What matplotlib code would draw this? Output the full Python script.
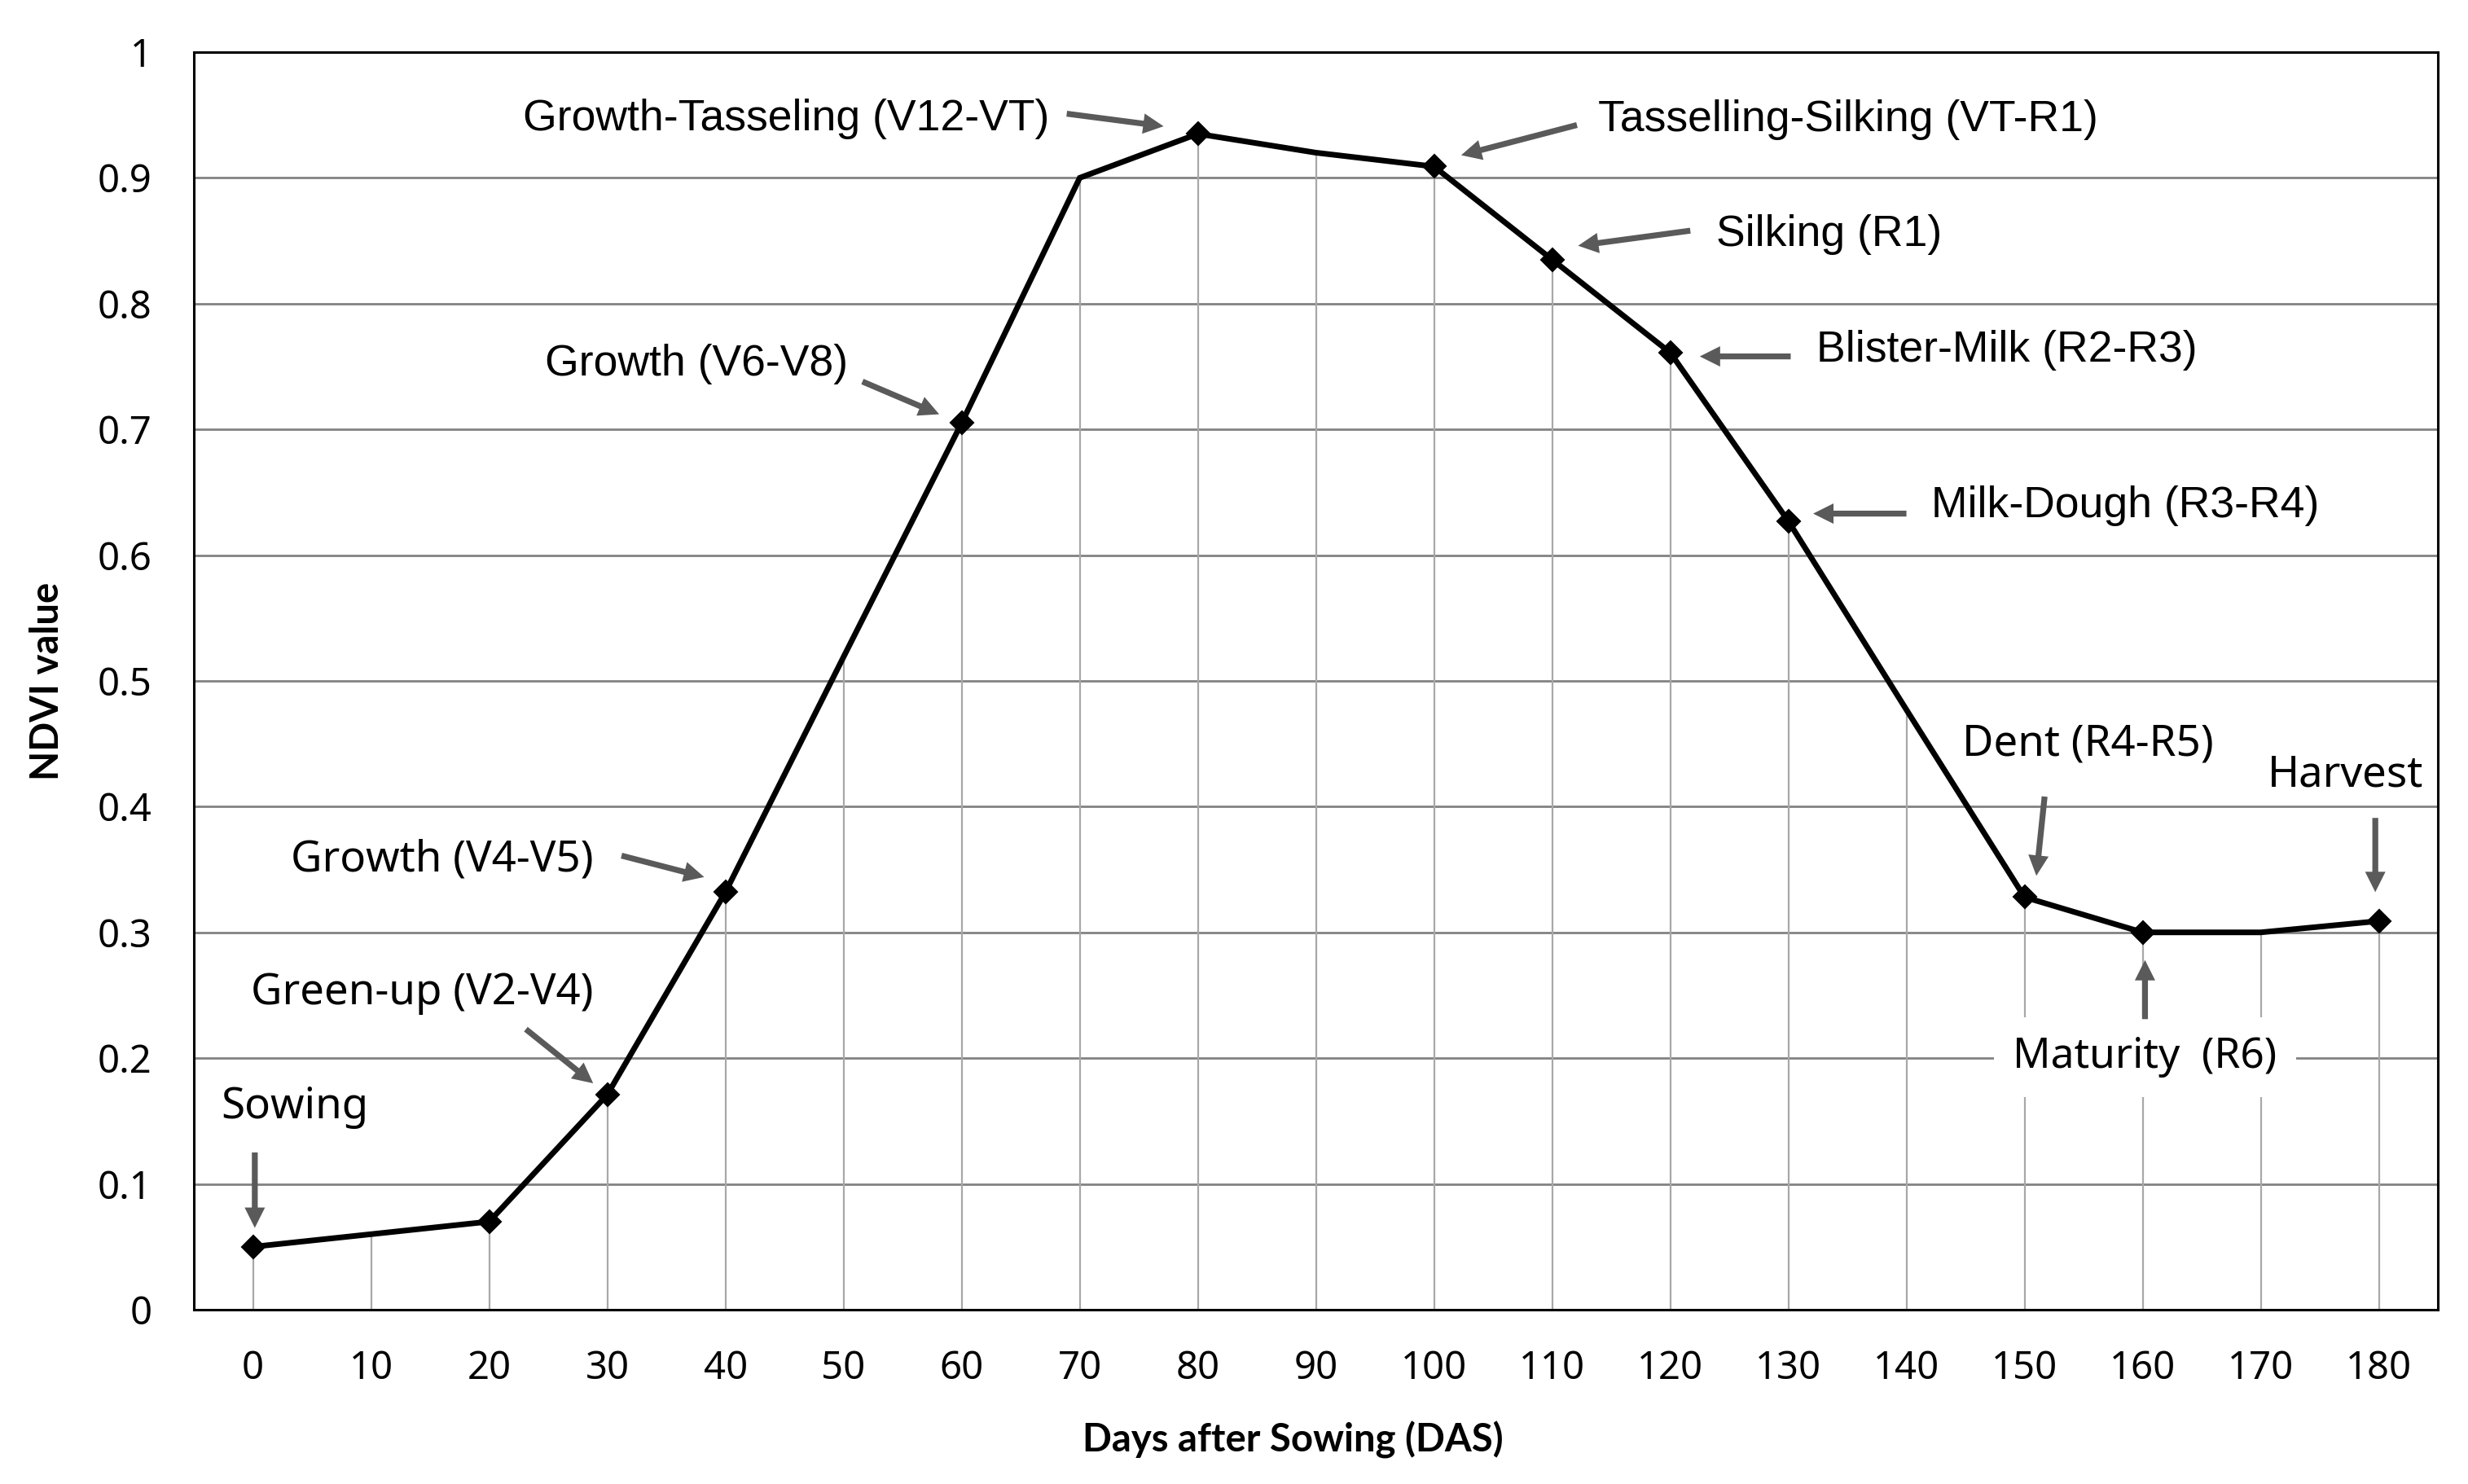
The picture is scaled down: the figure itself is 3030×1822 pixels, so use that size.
import numpy as np
import matplotlib
matplotlib.use("Agg")
import matplotlib.pyplot as plt

plt.rcParams['font.family'] = ['Noto Sans', 'DejaVu Sans']

# ---- data ----
das = [0, 10, 20, 30, 40, 50, 60, 70, 80, 90, 100, 110, 120, 130, 140, 150, 160, 170, 180]
ndvi = [0.05, 0.06, 0.07, 0.171, 0.332, 0.519, 0.705, 0.90, 0.935, 0.92, 0.909,
        0.835, 0.761, 0.627, 0.477, 0.328, 0.300, 0.300, 0.309]
has_marker = [True, False, True, True, True, False, True, False, True, False, True,
              True, True, True, False, True, True, False, True]

yticks = [0, 0.1, 0.2, 0.3, 0.4, 0.5, 0.6, 0.7, 0.8, 0.9, 1.0]
ytick_labels = ['0', '0.1', '0.2', '0.3', '0.4', '0.5', '0.6', '0.7', '0.8', '0.9', '1']

# stage labels: text, text position, alignment
upper_labels = [
    ("Growth-Tasseling (V12-VT)", 67.4, 0.938, 'right'),
    ("Tasselling-Silking (VT-R1)", 113.9, 0.937, 'left'),
    ("Silking (R1)", 123.9, 0.846, 'left'),
    ("Blister-Milk (R2-R3)", 132.4, 0.754, 'left'),
    ("Milk-Dough (R3-R4)", 142.1, 0.630, 'left'),
    ("Growth (V6-V8)", 50.35, 0.743, 'right'),
]
lower_labels = [
    ("Growth (V4-V5)", 28.85, 0.349, 'right'),
    ("Green-up (V2-V4)", 28.85, 0.243, 'right'),
    ("Sowing", -2.75, 0.152, 'left'),
    ("Dent (R4-R5)", 144.7, 0.441, 'left'),
    ("Harvest", 170.6, 0.416, 'left'),
]
maturity_label = ("Maturity  (R6)", 160.2, 0.192)

# arrows: (tail, head)
arrow_tails = [(68.9, 0.951), (112.1, 0.942), (121.7, 0.858), (130.2, 0.758),
               (140.0, 0.633), (51.6, 0.738), (31.2, 0.361), (23.1, 0.223),
               (0.15, 0.125), (151.7, 0.408), (179.7, 0.391), (160.2, 0.231)]
arrow_heads = [(77.1, 0.941), (102.3, 0.918), (112.2, 0.846), (122.5, 0.758),
               (132.1, 0.633), (58.1, 0.712), (38.2, 0.344), (28.8, 0.180),
               (0.15, 0.065), (151.0, 0.345), (179.7, 0.332), (160.2, 0.278)]

# ---- figure ----
fig = plt.figure(figsize=(30.30, 18.22), dpi=100)
ax = fig.add_axes([0.0786, 0.1175, 0.9092, 0.8474])

x = np.array(das, dtype=float)
y = np.array(ndvi)
m = np.array(has_marker)

ax.set_xlim(-5, 185)
ax.set_ylim(0, 1)

ax.set_axisbelow(True)
ax.yaxis.grid(True, color='#828282', lw=2.0, zorder=0)
ax.xaxis.grid(False)

# drop lines
ax.vlines(x, 0, y, color='#a8a8a8', lw=1.6, zorder=1)

ax.plot(x, y, color='black', lw=5.0, zorder=5, solid_joinstyle='miter')
ax.plot(x[m], y[m], 'D', color='black', ms=14, mew=1.5, zorder=6)

ax.set_xticks(das)
ax.set_xticklabels([str(v) for v in das])
ax.set_yticks(yticks)
ax.set_yticklabels(ytick_labels)
ax.tick_params(axis='both', length=0, labelsize=34, colors='black')
ax.tick_params(axis='x', pad=35)
ax.tick_params(axis='y', pad=37)

for s in ax.spines.values():
    s.set_color('black')
    s.set_linewidth(2.2)

ax.set_xlabel("Days after Sowing (DAS)", family=['Lato', 'DejaVu Sans'],
              fontweight='bold', fontsize=34, va='center')
ax.xaxis.set_label_coords(0.4897, -0.1036)
ax.set_ylabel("NDVI value", family=['Lato', 'DejaVu Sans'],
              fontweight='bold', fontsize=34, va='center')
ax.yaxis.set_label_coords(-0.0653, 0.5)

for txt, tx, ty, ha in upper_labels:
    ax.text(tx, ty, txt, ha=ha, va='baseline', fontsize=38.5,
            family=['Liberation Sans', 'DejaVu Sans'], color='black', zorder=7)
for txt, tx, ty, ha in lower_labels:
    ax.text(tx, ty, txt, ha=ha, va='baseline', fontsize=38,
            family=['Noto Sans', 'DejaVu Sans'], color='black', zorder=7)
mt, mx, my = maturity_label
ax.text(mx, my, mt, ha='center', va='baseline', fontsize=37,
        family=['Noto Sans', 'DejaVu Sans'], color='black', zorder=3,
        bbox=dict(boxstyle='square,pad=0.45', fc='white', ec='none'))

for (tx, ty), (hx, hy) in zip(arrow_tails, arrow_heads):
    ax.annotate('', xy=(hx, hy), xytext=(tx, ty),
                arrowprops=dict(arrowstyle='simple,head_length=0.9,head_width=0.9,tail_width=0.26',
                                mutation_scale=20, color='#5a5a5a', lw=0,
                                shrinkA=0, shrinkB=0),
                zorder=8)

fig.savefig('out.png', dpi=100, facecolor='white')
